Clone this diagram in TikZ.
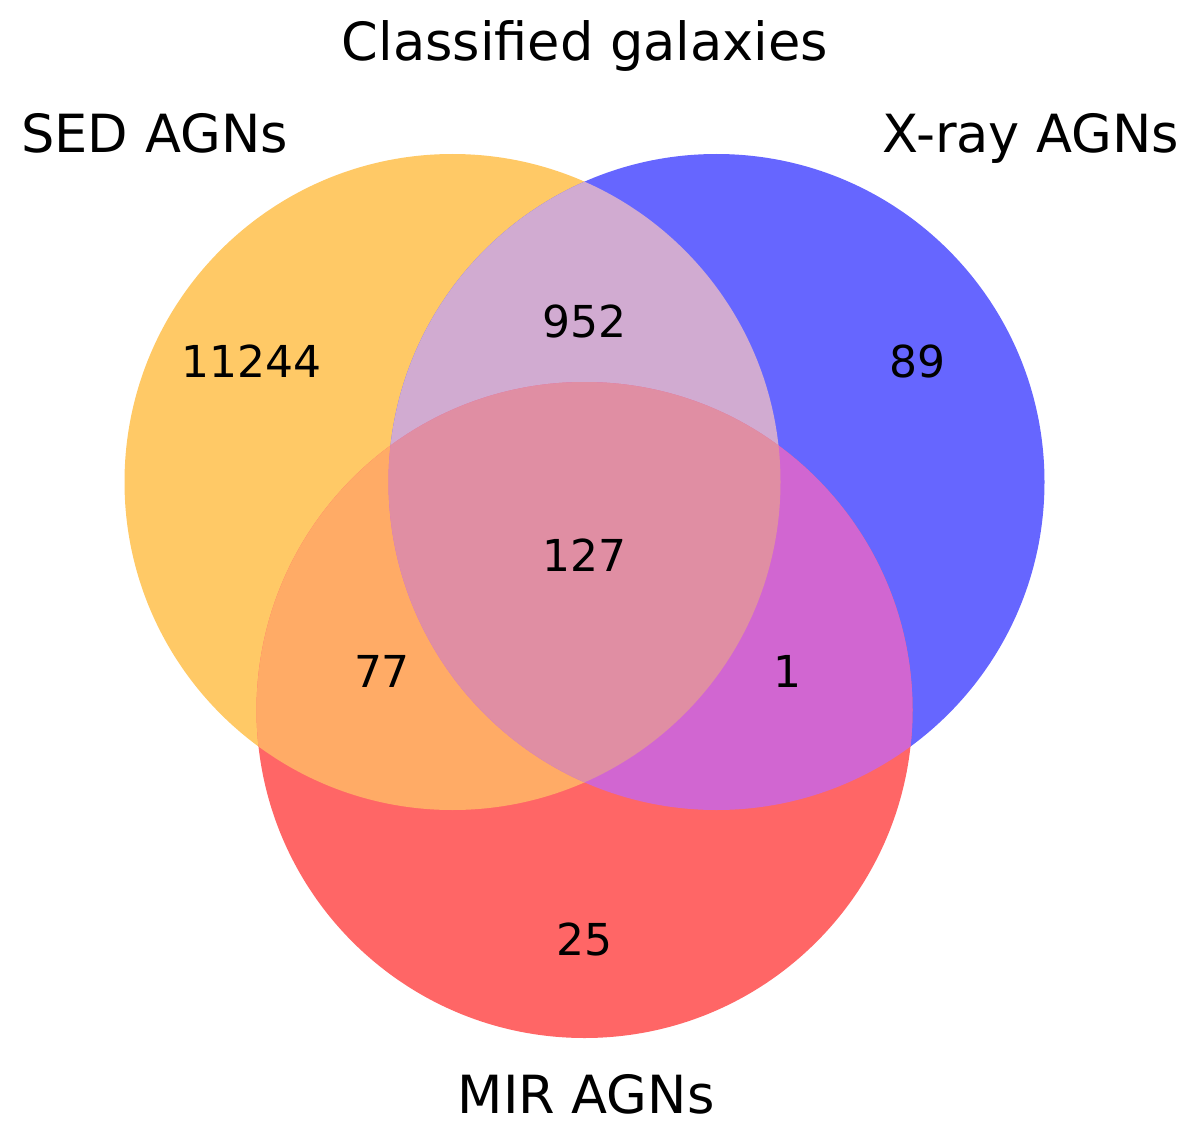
\documentclass[tikz,border=0pt]{standalone}
\usepackage{fontspec}
\setmainfont{DejaVu Sans}
\definecolor{sedc}{HTML}{FFC966}
\definecolor{xrc}{HTML}{6666FF}
\definecolor{mirc}{HTML}{FF6666}
\definecolor{sxc}{HTML}{D1ABD1}
\definecolor{smc}{HTML}{FFAB66}
\definecolor{xmc}{HTML}{D166D1}
\definecolor{sxmc}{HTML}{E08EA3}
\begin{document}
\begin{tikzpicture}[x=0.5pt,y=-0.5pt,
  lbl/.style={font=\fontsize{26.3}{31}\selectfont, anchor=base, inner sep=0pt},
  num/.style={font=\fontsize{22}{26}\selectfont, anchor=base, inner sep=0pt},
  set/.style={radius=164pt}]
\useasboundingbox (0,0) rectangle (1200,1145);
\coordinate (cS) at (452.5,482);
\coordinate (cX) at (716.5,482);
\coordinate (cM) at (584.5,710);
% single sets
\fill[sedc] (cS) circle[set];
\fill[xrc] (cX) circle[set];
\fill[mirc] (cM) circle[set];
% pairwise
\begin{scope}
  \clip (cS) circle[set];
  \fill[sxc] (cX) circle[set];
  \fill[smc] (cM) circle[set];
\end{scope}
\begin{scope}
  \clip (cX) circle[set];
  \fill[xmc] (cM) circle[set];
\end{scope}
% triple
\begin{scope}
  \clip (cS) circle[set];
  \clip (cX) circle[set];
  \fill[sxmc] (cM) circle[set];
\end{scope}
% labels
\node[lbl] (title) at (585,61) {Classified galaxies};
\node[lbl] (sed) at (154.5,153) {SED AGNs};
\node[lbl] (xray) at (1031,153) {X-ray AGNs};
\node[lbl] (mir) at (586,1113) {MIR AGNs};
% counts
\node[num] (n100) at (251.5,377) {11244};
\node[num] (n010) at (917.5,377) {89};
\node[num] (n110) at (584.5,337) {952};
\node[num] (n111) at (584.5,571) {127};
\node[num] (n101) at (382,687) {77};
\node[num] (n011) at (787,687) {1};
\node[num] (n001) at (584.5,955) {25};
\end{tikzpicture}
\end{document}
